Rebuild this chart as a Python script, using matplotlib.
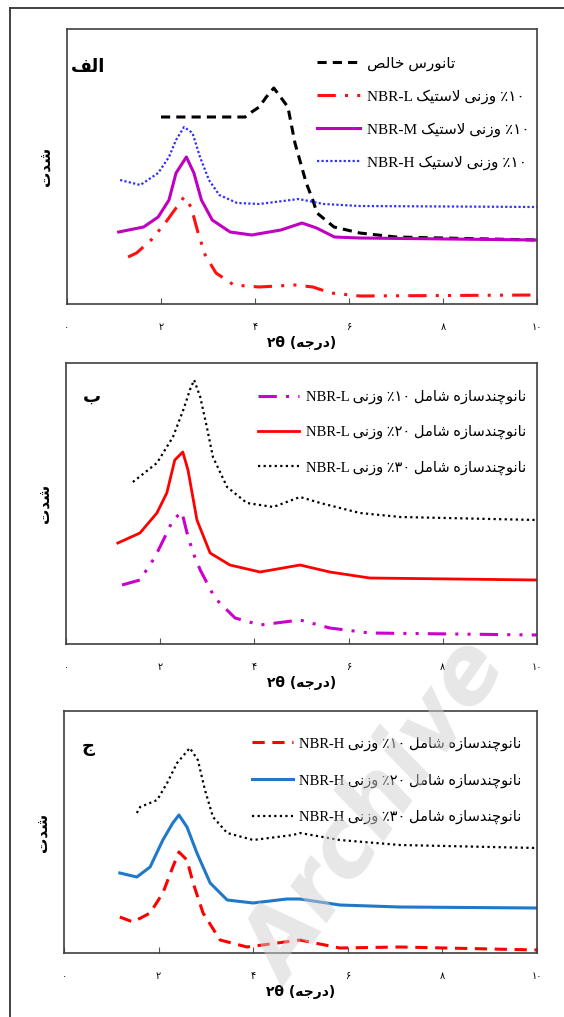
import matplotlib
matplotlib.use('Agg')
import matplotlib.pyplot as plt
from matplotlib.lines import Line2D

plt.rcParams['font.family'] = ['Liberation Serif', 'DejaVu Sans']

# --- minimal Persian shaping (matplotlib has no complex text layout) ---
# forms: isolated, final, initial, medial (None for right-joining letters)
FORMS = {
    'ا': ('\uFE8D', '\uFE8E', None, None),
    'د': ('\uFEA9', '\uFEAA', None, None),
    'ر': ('\uFEAD', '\uFEAE', None, None),
    'ز': ('\uFEAF', '\uFEB0', None, None),
    'و': ('\uFEED', '\uFEEE', None, None),
    '\uFEFB': ('\uFEFB', '\uFEFC', None, None),
    'ب': ('\uFE8F', '\uFE90', '\uFE91', '\uFE92'),
    'ت': ('\uFE95', '\uFE96', '\uFE97', '\uFE98'),
    'ج': ('\uFE9D', '\uFE9E', '\uFE9F', '\uFEA0'),
    'خ': ('\uFEA5', '\uFEA6', '\uFEA7', '\uFEA8'),
    'س': ('\uFEB1', '\uFEB2', '\uFEB3', '\uFEB4'),
    'ش': ('\uFEB5', '\uFEB6', '\uFEB7', '\uFEB8'),
    'ص': ('\uFEB9', '\uFEBA', '\uFEBB', '\uFEBC'),
    'ف': ('\uFED1', '\uFED2', '\uFED3', '\uFED4'),
    'ل': ('\uFEDD', '\uFEDE', '\uFEDF', '\uFEE0'),
    'م': ('\uFEE1', '\uFEE2', '\uFEE3', '\uFEE4'),
    'ن': ('\uFEE5', '\uFEE6', '\uFEE7', '\uFEE8'),
    'ه': ('\uFEE9', '\uFEEA', '\uFEEB', '\uFEEC'),
    'ی': ('\uFBFC', '\uFBFD', '\uFBFE', '\uFBFF'),
    'ک': ('\uFB8E', '\uFB8F', '\uFB90', '\uFB91'),
    'چ': ('\uFB7A', '\uFB7B', '\uFB7C', '\uFB7D'),
}


def fa(text):
    s = text.replace('لا', '\uFEFB')
    out = []
    for i, c in enumerate(s):
        if c not in FORMS:
            out.append(c)
            continue
        prev = s[i - 1] if i > 0 else None
        nxt = s[i + 1] if i + 1 < len(s) else None
        jp = prev in FORMS and FORMS[prev][2] is not None
        jn = nxt in FORMS and FORMS[c][2] is not None
        iso, fin, ini, med = FORMS[c]
        if jp and jn:
            out.append(med)
        elif jp:
            out.append(fin)
        elif jn:
            out.append(ini)
        else:
            out.append(iso)
    return ''.join(reversed(out))


# ---------------- data (arbitrary intensity) ----------------
# panel alef
a_pure_x = [2.0, 2.5, 3.0, 3.5, 3.79, 3.93, 4.09, 4.24, 4.40, 4.70, 4.85, 5.09, 5.23, 5.32, 5.68, 6.23, 7.0, 10.0]
a_pure_y = [187, 187, 187, 187, 187, 192, 197, 207, 216, 197, 161, 121, 104, 91, 77, 71, 67, 64]
a_L_x = [1.3, 1.48, 1.79, 2.09, 2.32, 2.49, 2.64, 2.79, 2.94, 3.17, 3.55, 4.09, 4.85, 5.23, 5.62, 6.23, 10.0]
a_L_y = [47, 51, 64, 81, 96, 107, 97, 71, 49, 31, 19, 17, 19, 17, 11, 8, 9]
a_M_x = [1.1, 1.63, 1.94, 2.17, 2.32, 2.54, 2.70, 2.86, 3.09, 3.47, 3.93, 4.55, 5.0, 5.31, 5.69, 6.23, 10.0]
a_M_y = [72, 77, 87, 104, 131, 147, 131, 104, 84, 72, 69, 74, 81, 76, 67, 66, 64]
a_H_x = [1.13, 1.56, 1.94, 2.17, 2.32, 2.49, 2.67, 2.83, 3.02, 3.24, 3.62, 4.09, 4.93, 5.46, 6.23, 10.0]
a_H_y = [124, 119, 131, 147, 164, 177, 171, 147, 124, 109, 101, 100, 105, 100, 98, 97]

# panel be (NBR-L nanocomposites)
b_10_x = [1.19, 1.57, 1.89, 2.14, 2.27, 2.46, 2.57, 2.70, 2.85, 3.16, 3.59, 4.12, 4.97, 5.6, 6.45, 10.0]
b_10_y = [59, 64, 87, 111, 124, 132, 111, 91, 74, 46, 26, 19, 24, 16, 11, 9]
b_20_x = [1.10, 1.57, 1.93, 2.14, 2.31, 2.48, 2.59, 2.78, 3.06, 3.48, 4.12, 4.97, 5.6, 6.45, 10.0]
b_20_y = [101, 111, 131, 151, 184, 192, 174, 124, 91, 79, 72, 79, 72, 66, 64]
b_30_x = [1.42, 1.93, 2.27, 2.49, 2.63, 2.72, 2.85, 2.99, 3.12, 3.42, 3.84, 4.4, 4.97, 5.4, 6.24, 7.1, 10.0]
b_30_y = [162, 181, 207, 234, 254, 264, 247, 217, 187, 157, 141, 137, 147, 141, 131, 127, 124]

# panel jim (NBR-H nanocomposites)
c_10_x = [1.18, 1.46, 1.82, 2.09, 2.30, 2.43, 2.6, 2.73, 2.94, 3.30, 3.87, 4.99, 5.83, 7.1, 10.0]
c_10_y = [36, 31, 40, 60, 86, 101, 93, 70, 40, 13, 6, 13, 5, 6, 3]
c_20_x = [1.18, 1.54, 1.82, 2.09, 2.30, 2.43, 2.6, 2.81, 3.09, 3.45, 4.0, 4.71, 4.99, 5.83, 7.1, 10.0]
c_20_y = [80, 76, 86, 113, 130, 138, 126, 100, 70, 53, 50, 54, 54, 48, 46, 45]
c_30_x = [1.54, 1.61, 1.97, 2.18, 2.39, 2.66, 2.83, 2.98, 3.15, 3.45, 4.0, 4.84, 4.99, 5.83, 7.1, 10.0]
c_30_y = [140, 146, 153, 170, 190, 205, 193, 163, 136, 120, 113, 118, 120, 113, 108, 105]

x_ticks = [0, 2, 4, 6, 8, 10]
x_tick_labels = ['۰', '۲', '۴', '۶', '۸', '۱۰']

lab_pure = fa('خالص') + ' ' + fa('تانورس')
lab_a = ['NBR-' + k + ' ' + fa('لاستیک') + ' ' + fa('وزنی') + ' ٪۱۰' for k in 'LMH']
lab_b = ['NBR-L ' + fa('وزنی') + ' ٪' + p + ' ' + fa('شامل') + ' ' + fa('نانوچندسازه')
         for p in ['۱۰', '۲۰', '۳۰']]
lab_c = ['NBR-H ' + fa('وزنی') + ' ٪' + p + ' ' + fa('شامل') + ' ' + fa('نانوچندسازه')
         for p in ['۱۰', '۲۰', '۳۰']]

fig = plt.figure(figsize=(5.64, 10.17), dpi=100)

# outer frame (left and top edges)
fig.add_artist(Line2D([10 / 564, 10 / 564], [0, 1 - 8 / 1017], transform=fig.transFigure,
                      color='#333333', lw=1.3))
fig.add_artist(Line2D([10 / 564, 1], [1 - 8 / 1017, 1 - 8 / 1017], transform=fig.transFigure,
                      color='#333333', lw=1.3))

ax1 = fig.add_axes([67 / 564, 1 - 304 / 1017, 470 / 564, 275 / 1017])
ax2 = fig.add_axes([66 / 564, 1 - 644 / 1017, 471 / 564, 281 / 1017])
ax3 = fig.add_axes([64 / 564, 1 - 953 / 1017, 473 / 564, 242 / 1017])

ax1.plot(a_pure_x, a_pure_y, color='black', lw=2.2, ls=(0, (3, 2)), label=lab_pure)
ax1.plot(a_L_x, a_L_y, color='#ff1010', lw=2.2, ls=(0, (6, 3, 1, 3, 1, 3)), label=lab_a[0])
ax1.plot(a_M_x, a_M_y, color='#c000c0', lw=2.2, label=lab_a[1])
ax1.plot(a_H_x, a_H_y, color='#3030ff', lw=1.6, ls=(0, (1, 1)), label=lab_a[2])
ax1.set_ylim(0, 275)

ax2.plot(b_10_x, b_10_y, color='#cc00cc', lw=2.2, ls=(0, (6, 3, 1, 3, 1, 3)), label=lab_b[0])
ax2.plot(b_20_x, b_20_y, color='#ff0000', lw=2.0, label=lab_b[1])
ax2.plot(b_30_x, b_30_y, color='black', lw=1.6, ls=(0, (1, 1.5)), label=lab_b[2])
ax2.set_ylim(0, 281)

ax3.plot(c_10_x, c_10_y, color='#ff0000', lw=2.2, ls=(0, (4, 2.5)), label=lab_c[0])
ax3.plot(c_20_x, c_20_y, color='#1f78c8', lw=2.2, label=lab_c[1])
ax3.plot(c_30_x, c_30_y, color='black', lw=1.6, ls=(0, (1, 1.5)), label=lab_c[2])
ax3.set_ylim(0, 242)

legend_pos = [(0.532, 0.90), (0.408, 0.905), (0.397, 0.895)]
legend_size = [11, 10.5, 10.5]
legend_space = [1.2, 1.45, 1.55]
letters = ['الف', 'ب', 'ج']
letter_pos = [(0.008, 0.86), (0.036, 0.88), (0.038, 0.85)]

for ax, lp, fs, ls_, let, tp in zip([ax1, ax2, ax3], legend_pos, legend_size, legend_space,
                                    letters, letter_pos):
    ax.set_xlim(0, 10)
    ax.set_xticks(x_ticks)
    ax.set_xticklabels(x_tick_labels, family='DejaVu Sans', fontsize=7)
    ax.set_yticks([])
    ax.tick_params(axis='x', direction='in', length=4, pad=13, color='#555555')
    for sp in ax.spines.values():
        sp.set_color('#404040')
        sp.set_linewidth(1.2)
    ax.set_xlabel('۲θ (' + fa('درجه') + ')', fontsize=10, fontweight='bold',
                  family='DejaVu Sans', labelpad=3)
    ax.set_ylabel(fa('شدت'), fontsize=11, fontweight='bold', family='DejaVu Sans', labelpad=10)
    ax.legend(loc='upper left', bbox_to_anchor=lp, frameon=False, fontsize=fs,
              handlelength=2.8, handletextpad=0.45, labelspacing=ls_,
              borderpad=0, borderaxespad=0)
    ax.text(tp[0], tp[1], fa(let), transform=ax.transAxes, fontsize=13,
            fontweight='bold', family='DejaVu Sans', ha='left', va='center')

fig.text(0.67, 0.20, 'Archive', fontsize=66, fontweight='bold', style='italic',
         family='DejaVu Sans', color='#d0d0d0', alpha=0.5, rotation=55,
         ha='center', va='center', zorder=10)

fig.savefig('out.png', dpi=100)
